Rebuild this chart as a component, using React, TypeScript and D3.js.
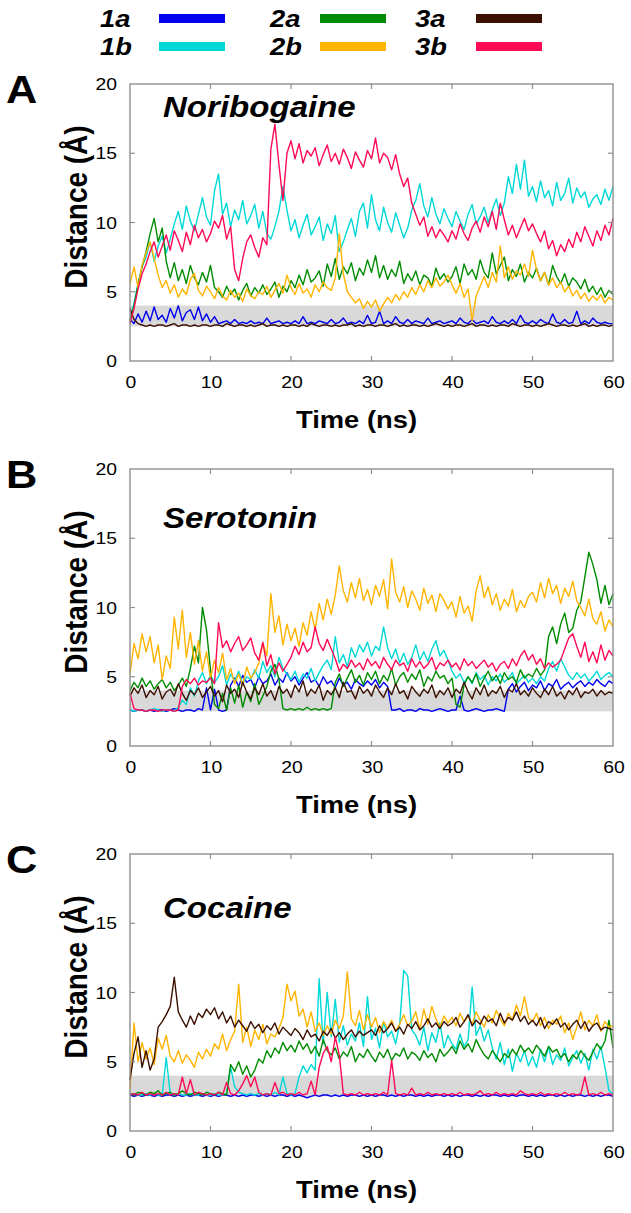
import React from 'react';
import * as d3 from 'd3';

// ---------- data ----------
const SERIES = ['1a', '1b', '2a', '2b', '3a', '3b'];
const COLORS = ['#0000ee', '#00d8d8', '#008c00', '#ffb400', '#3c1000', '#ff0a55'];
const PANEL_LETTERS = ['A', 'B', 'C'];
const TITLES = ['Noribogaine', 'Serotonin', 'Cocaine'];
const X_TICKS = [0, 10, 20, 30, 40, 50, 60];
const Y_TICKS = [0, 5, 10, 15, 20];
const X_DOMAIN = [0, 60];
const Y_DOMAIN = [0, 20];
const BAND = [2.5, 4.0];

// Panel A: Noribogaine (values every 0.5 ns, 0..60)
const A_1a = [
  3.0, 2.7, 3.4, 2.8, 3.6, 2.9, 3.9, 3.0, 3.3, 2.8, 3.8, 3.1, 4.0, 2.9, 3.5, 3.7, 3.0, 3.9, 2.9, 3.4,
  2.8, 3.2, 2.7, 2.8, 2.9, 2.7, 3.0, 2.7, 2.8, 2.7, 2.9, 2.7, 2.8, 2.7, 3.1, 2.7, 2.8, 2.9, 2.7, 2.8,
  2.7, 2.9, 2.7, 3.2, 2.7, 2.8, 2.7, 2.9, 2.8, 2.7, 3.0, 2.7, 2.8, 3.1, 2.7, 2.8, 2.7, 2.9, 2.7, 3.3,
  2.7, 2.8, 3.6, 2.7, 2.9, 2.7, 3.2, 2.8, 2.7, 3.0, 2.7, 2.9, 2.8, 2.7, 3.1, 2.7, 2.8, 2.9, 2.7, 2.8,
  2.9, 2.7, 3.1, 2.8, 2.7, 3.0, 2.7, 2.8, 2.9, 2.7, 3.2, 2.8, 2.7, 2.9, 2.7, 3.0, 2.7, 3.3, 2.8, 2.7,
  2.9, 2.7, 3.0, 2.8, 2.7, 3.4, 2.8, 2.7, 3.0, 2.7, 2.8, 3.6, 2.7, 2.9, 2.7, 3.1, 2.8, 2.7, 2.8, 2.7,
  2.7,
];
const A_1b = [
  3.0, 4.2, 5.6, 6.8, 7.5, 8.6, 7.2, 8.3, 9.0, 7.8, 8.8, 9.9, 10.8, 9.5, 11.2, 10.1, 9.4, 10.6, 11.8, 10.4,
  9.8, 12.3, 13.5, 10.6, 11.4, 9.7, 10.9, 10.2, 11.6, 9.9, 10.5, 11.3, 9.6, 10.8, 9.2, 8.8, 9.7, 10.8, 12.6, 10.9,
  9.4, 10.2, 8.9, 9.8, 10.6, 9.1, 9.7, 10.4, 8.7, 9.9, 9.2, 10.5, 7.9, 8.6, 9.5, 10.3, 9.0, 10.8, 11.4, 9.6,
  12.0, 10.2, 9.4, 11.1, 10.0, 9.3, 10.7, 9.8, 8.9, 9.6, 10.9, 11.6, 12.8, 11.2, 10.4, 11.8, 10.6, 9.9, 11.0, 10.3,
  9.7, 10.8, 10.1, 9.5, 10.6, 11.3, 9.9, 10.4, 11.1, 10.0, 10.9, 11.7, 10.5, 11.4, 13.3, 12.1, 14.2, 12.4, 14.5, 11.9,
  12.6, 11.5, 13.0, 11.8, 12.3, 11.2, 12.9, 11.6, 12.1, 13.2, 11.4, 12.5, 11.8, 12.2, 11.1, 11.7, 12.0, 11.3, 12.4, 11.6,
  12.6,
];
const A_2a = [
  2.8, 4.0, 5.5, 6.8, 7.9, 9.2, 10.3, 8.6, 9.6, 7.2, 6.0, 7.1, 5.8, 6.6, 5.6, 6.9, 6.0, 5.5, 6.4, 5.7,
  6.9, 5.3, 5.0, 4.6, 5.4, 4.8, 5.2, 4.4, 5.1, 5.6, 4.7, 5.3, 4.9, 5.5, 4.8, 5.2, 5.7, 4.6, 5.4, 5.0,
  5.8, 5.3, 6.2, 5.5, 6.6, 5.7, 6.0, 6.5, 5.4, 7.0, 6.1, 7.4, 5.9, 6.8, 6.3, 7.1, 5.8, 6.7, 6.2, 7.3,
  6.4, 7.6, 6.0, 6.9, 5.9, 6.6, 6.1, 7.2, 5.6, 6.3, 5.8, 6.5, 5.5, 6.2, 6.0, 5.4, 6.7, 5.9, 6.3, 5.7,
  6.1, 6.8, 5.6, 7.0, 6.2, 6.6, 5.9, 7.3, 6.4, 6.0, 7.8, 6.3, 6.9, 7.5, 5.8, 6.6, 6.1, 7.0, 5.7, 6.4,
  6.0, 6.7, 5.8, 6.4, 5.5, 6.9, 6.1, 5.6, 6.3, 5.4, 6.0, 5.7, 5.2, 5.9, 5.0, 5.4, 4.8, 5.3, 4.6, 5.1,
  4.8,
];
const A_2b = [
  5.6, 6.8, 5.3, 6.9, 7.8, 8.6, 7.4, 6.2, 5.3, 5.8, 4.9, 5.5, 4.6, 5.2, 4.8, 5.9, 6.3, 5.1, 4.7, 5.4,
  5.0, 4.5, 5.3, 4.7, 4.4, 5.1, 4.6, 4.9, 4.3, 5.2, 4.7, 4.5, 5.0, 4.8, 5.4, 4.6, 5.1, 5.6, 4.9, 6.2,
  5.3, 4.8, 5.6, 4.9, 5.2, 4.6, 5.5, 5.0, 5.7, 5.3, 5.1, 6.0, 9.2, 6.3, 5.0, 4.6, 4.2, 4.5, 3.8, 4.3,
  3.9, 4.4, 3.6, 4.1, 4.6, 4.2, 4.8, 4.4, 5.0, 4.6, 5.3, 4.8, 5.5, 5.0, 5.8, 5.3, 6.0, 5.4, 5.7, 6.2,
  5.5, 4.9, 5.6, 4.6, 5.2, 2.9, 4.7, 5.4, 6.1, 5.3, 6.4, 5.7, 8.3, 6.0, 6.8, 5.9, 6.5, 6.2, 7.0, 6.1,
  8.0, 6.6, 5.8, 6.4, 5.5, 6.0, 5.3, 5.7, 5.0, 5.4, 4.7, 5.1, 4.5, 4.9, 4.3, 4.7, 4.4, 4.8, 4.2, 4.6,
  4.4,
];
const A_3a = [
  3.8, 3.0, 2.7, 2.6, 2.5, 2.6, 2.5, 2.6, 2.6, 2.5, 2.6, 2.7, 2.5, 2.6, 2.6, 2.5, 2.6, 2.5, 2.6, 2.6,
  2.5, 2.6, 2.6, 2.5, 2.7, 2.6, 2.5, 2.6, 2.6, 2.5, 2.6, 2.5, 2.6, 2.7, 2.5, 2.6, 2.6, 2.5, 2.6, 2.5,
  2.6, 2.6, 2.5, 2.6, 2.5, 2.7, 2.6, 2.5, 2.6, 2.6, 2.5, 2.6, 2.5, 2.6, 2.6, 2.7, 2.5, 2.6, 2.5, 2.6,
  2.6, 2.5, 2.6, 2.6, 2.5, 2.6, 2.7, 2.5, 2.6, 2.5, 2.6, 2.6, 2.5, 2.6, 2.5, 2.6, 2.7, 2.6, 2.5, 2.6,
  2.5, 2.6, 2.6, 2.5, 2.6, 2.7, 2.5, 2.6, 2.6, 2.5, 2.6, 2.5, 2.6, 2.6, 2.5, 2.7, 2.6, 2.5, 2.6, 2.6,
  2.5, 2.6, 2.5, 2.6, 2.7, 2.6, 2.5, 2.6, 2.6, 2.5, 2.6, 2.5, 2.6, 2.7, 2.5, 2.6, 2.5, 2.6, 2.6, 2.5,
  2.6,
];
const A_3b = [
  2.7, 3.8, 5.2, 6.3, 7.0, 7.9, 8.6, 7.5, 8.3, 9.1, 8.0, 9.4, 8.7, 7.9, 9.3, 8.4, 9.8, 8.9, 9.5, 8.6,
  9.2, 10.1, 9.6, 10.5, 8.8, 9.7, 6.6, 5.8, 7.4, 8.6, 9.1, 8.2, 7.5, 8.9, 8.4, 15.3, 17.1, 14.2, 11.6, 15.0,
  15.9, 14.6, 15.7, 14.3, 15.2, 14.8, 15.4, 14.1, 14.9, 15.6, 14.4, 15.0, 14.2, 15.3, 14.7, 13.9, 15.1, 14.5, 14.0, 15.2,
  14.6, 16.1, 14.3, 15.0, 14.7, 13.8, 14.9, 13.5, 12.6, 13.2, 11.4, 10.6, 9.8, 10.4, 9.0, 9.7, 8.9, 9.5, 9.1, 8.6,
  9.4, 8.8, 9.9, 9.2, 8.7, 9.6, 10.1, 9.3, 10.4, 9.7, 10.8, 9.5, 11.4, 10.2, 9.1, 9.8, 8.9, 9.6, 10.3, 9.4,
  9.9, 9.2, 8.6, 9.4, 8.1, 8.7, 7.6, 8.4, 7.9, 8.8, 8.2, 9.3, 8.6, 9.7, 9.0, 8.3, 9.4, 8.7, 9.8, 9.1,
  10.3,
];

// Panel B: Serotonin
const B_1a = [
  2.6, 2.5, 2.6, 2.6, 2.5, 2.6, 2.5, 2.6, 2.6, 2.5, 2.6, 2.7, 2.6, 2.5, 2.6, 2.6, 2.5, 2.7, 2.6, 4.2,
  2.6, 4.1, 2.6, 2.5, 2.6, 4.4, 4.9, 4.3, 5.1, 4.6, 4.8, 4.2, 5.0, 4.5, 4.7, 5.2, 4.4, 4.9, 4.6, 5.3,
  4.7, 5.0, 4.4, 4.9, 5.3, 4.6, 4.8, 4.3, 5.0, 4.5, 4.7, 4.2, 4.9, 4.4, 4.6, 4.1, 4.8, 4.5, 4.3, 4.7,
  4.4, 4.8, 4.2, 4.6, 4.3, 2.6, 2.6, 2.7, 2.5, 2.6, 2.6, 2.5, 2.7, 2.6, 2.6, 2.5, 2.6, 2.7, 2.6, 2.5,
  2.6, 2.6, 3.6, 2.6, 2.5, 2.6, 2.7, 2.6, 2.5, 2.6, 2.6, 2.7, 2.6, 2.5, 4.1, 4.5, 3.9, 4.3, 4.6, 4.0,
  4.4, 4.2, 4.7, 4.0, 4.5, 4.3, 4.8, 4.1, 4.4, 4.6, 4.2, 4.5, 4.7, 4.3, 4.6, 4.4, 4.8, 4.5, 4.3, 4.7,
  4.5,
];
const B_1b = [
  2.6, 2.5, 2.6, 2.6, 2.5, 2.6, 2.7, 2.6, 2.5, 2.6, 2.6, 2.5, 2.8, 3.3, 3.0, 4.2, 3.6, 4.7, 5.3, 4.5,
  5.1, 4.6, 5.0, 5.8, 4.4, 5.2, 4.7, 5.4, 4.5, 5.0, 4.8, 5.5, 4.9, 6.1, 5.3, 5.8, 5.0, 6.4, 5.6, 5.2,
  4.8, 5.4, 4.6, 5.2, 4.9, 5.6, 4.7, 5.3, 5.8, 6.2, 5.5, 7.9, 6.0, 6.6, 5.7, 7.1, 6.4, 7.3, 6.8, 7.5,
  6.5, 7.2, 6.9, 8.6, 7.1, 6.3, 7.0, 6.0, 6.7, 5.9, 6.4, 7.3, 6.2, 6.8, 6.1, 7.0, 7.6, 6.5, 6.9, 6.2,
  5.4, 4.9, 5.2, 4.6, 5.0, 4.5, 5.3, 4.8, 5.1, 4.4, 5.0, 4.7, 5.2, 4.6, 4.9, 5.3, 4.5, 4.8, 5.1, 4.6,
  4.9, 4.5, 5.0, 4.7, 5.6, 6.1, 5.4, 6.3, 5.7, 5.1, 4.8, 5.3, 4.9, 5.2, 4.7, 5.0, 5.4, 4.8, 5.1, 5.3,
  5.0,
];
const B_2a = [
  4.0, 4.6, 4.2, 4.9, 4.3, 4.7, 4.1, 4.5, 4.8, 4.2, 4.6, 4.0, 4.4, 4.9, 4.3, 5.6, 7.2, 6.0, 10.0, 8.4,
  5.5, 3.0, 2.7, 3.8, 2.6, 4.2, 3.1, 4.4, 2.8, 3.9, 3.2, 4.5, 3.0, 3.6, 4.3, 5.4, 5.9, 4.8, 2.7, 2.6,
  2.7, 2.6, 2.7, 2.6, 2.8, 2.6, 2.7, 2.6, 2.7, 2.6, 2.7, 4.6, 5.2, 4.3, 4.9, 5.5, 4.6, 5.1, 4.4, 5.3,
  4.8, 5.4, 4.5, 5.1, 4.7, 5.6, 4.4, 5.0, 5.3, 4.6, 5.2, 4.8, 5.5, 4.3, 5.0, 4.7, 5.4, 4.9, 5.1, 4.5,
  4.9, 3.0, 2.8, 4.4, 5.0, 4.6, 5.2, 4.3, 4.9, 5.4, 4.7, 5.1, 4.5, 5.3, 4.8, 5.0, 4.6, 5.5, 4.9, 5.2,
  5.0, 5.6, 5.1, 5.5, 7.9, 8.6, 7.4, 8.8, 9.6, 8.2, 8.5, 9.8, 10.4, 12.2, 14.0, 13.1, 12.0, 10.3, 11.6, 10.2,
  11.0,
];
const B_2b = [
  5.2, 7.4, 6.3, 8.1, 6.8, 7.9, 6.0, 7.3, 4.8, 6.5, 5.6, 9.3, 7.0, 9.8, 6.4, 8.2, 5.9, 7.6, 5.4, 6.8,
  4.9, 6.2, 5.3, 6.7, 4.8, 5.6, 4.5, 5.2, 4.4, 5.7, 4.9, 5.3, 6.0, 7.4, 6.5, 11.0, 8.2, 9.4, 7.3, 8.8,
  7.6, 8.5, 7.2, 8.9, 8.0, 9.7, 8.4, 10.3, 9.1, 10.6, 9.5, 10.9, 13.0, 11.2, 10.4, 11.8, 10.7, 12.1, 10.5, 11.3,
  10.2, 11.6, 10.8, 12.0, 9.9, 13.5, 11.1, 10.4, 11.5, 10.0, 11.2, 10.6, 9.8, 11.4, 10.3, 10.9, 9.7, 11.0, 10.5, 9.9,
  10.4, 9.3, 10.8, 9.6, 10.1, 9.0, 11.2, 12.3, 10.7, 11.5, 10.2, 11.0, 9.8, 10.6, 10.1, 11.3, 9.7, 10.5, 10.0, 10.8,
  11.1, 10.4, 11.8, 10.7, 12.1, 11.0, 11.6, 10.3, 11.4, 10.8, 11.9, 10.5, 10.0, 9.4, 10.6, 9.2, 8.8, 9.7, 8.3, 9.1,
  8.6,
];
const B_3a = [
  3.6, 4.2, 3.8, 4.4, 3.5, 4.0, 3.7, 4.3, 3.4, 3.9, 4.1, 3.6, 4.5, 3.8, 3.3, 4.0, 3.7, 4.2, 3.5, 3.9,
  4.3, 3.6, 4.0, 3.2, 4.4, 3.8, 4.1, 3.5, 4.6, 3.9, 3.4, 4.2, 3.7, 4.5, 3.6, 4.0, 3.3, 4.3, 3.8, 4.1,
  3.5, 4.4, 3.9, 4.7, 3.6, 4.1, 3.8, 4.4, 3.3, 4.0, 3.7, 4.2, 3.5, 4.6, 3.9, 4.0, 3.4, 4.3, 3.8, 4.1,
  3.6, 4.4, 3.9, 3.5, 4.2, 3.7, 4.5, 3.8, 4.0, 3.4, 4.3, 3.9, 3.6, 4.1, 3.8, 4.4, 3.5, 4.0, 3.7, 4.2,
  3.5, 4.1, 3.8, 4.6, 3.9, 3.4, 4.2, 3.7, 4.4, 3.6, 4.0, 3.8, 4.3, 3.5, 4.1, 3.9, 4.5, 3.7, 4.0, 3.6,
  4.2, 3.8, 3.5, 4.1, 3.7, 4.3, 3.6, 3.9, 3.4, 4.0, 3.7, 4.2, 3.5, 3.9, 3.8, 4.1, 3.6, 4.0, 3.7, 3.9,
  3.8,
];
const B_3b = [
  3.8, 2.7, 2.6, 2.6, 2.5, 2.6, 2.6, 2.5, 2.6, 2.6, 2.6, 2.5, 2.6, 4.3, 4.8, 4.5, 4.9, 4.4, 4.7, 4.6,
  4.9, 4.5, 8.9, 7.1, 7.6, 6.8, 7.4, 7.9, 6.9, 7.3, 7.8, 6.7, 6.2, 7.5, 5.8, 6.6, 5.2, 6.0, 5.4, 5.9,
  6.4, 7.2, 6.6, 7.5, 6.8, 7.1, 8.6, 7.4, 6.9, 7.7, 7.0, 6.3, 5.4, 5.9, 5.6, 6.2, 5.7, 6.0, 5.5, 6.3,
  5.8, 6.1, 5.6, 6.4, 5.9, 5.5, 6.2, 5.8, 6.0, 5.4, 6.3, 5.7, 6.1, 5.6, 5.9, 6.4, 5.5, 6.0, 5.8, 6.2,
  5.7, 6.0, 5.5, 6.3, 5.8, 6.1, 5.6, 5.9, 6.2, 5.7, 6.0, 5.4, 5.9, 6.1, 5.6, 6.3, 5.8, 6.5, 6.9, 6.2,
  6.6, 5.9, 6.3, 5.6, 6.0, 5.7, 5.9, 6.2, 7.0, 7.8, 8.1, 7.2, 6.4, 7.5, 6.1, 6.8, 6.0, 7.3, 6.2, 6.9,
  6.5,
];

// Panel C: Cocaine
const C_1a = [
  2.6, 2.5, 2.6, 2.5, 2.6, 2.6, 2.5, 2.6, 2.5, 2.6, 2.6, 2.5, 2.6, 2.5, 2.6, 2.5, 2.6, 2.6, 2.5, 2.6,
  2.5, 2.6, 2.5, 2.6, 2.6, 2.5, 2.6, 2.5, 2.6, 2.5, 2.6, 2.6, 2.5, 2.6, 2.5, 2.6, 2.5, 2.6, 2.6, 2.5,
  2.6, 2.5, 2.6, 2.5, 2.4, 2.5, 2.6, 2.5, 2.6, 2.6, 2.5, 2.6, 2.5, 2.6, 2.5, 2.6, 2.6, 2.5, 2.6, 2.5,
  2.6, 2.5, 2.6, 2.6, 2.5, 2.6, 2.5, 2.6, 2.5, 2.6, 2.6, 2.5, 2.6, 2.5, 2.6, 2.5, 2.6, 2.6, 2.5, 2.6,
  2.5, 2.6, 2.5, 2.6, 2.6, 2.5, 2.6, 2.5, 2.6, 2.5, 2.6, 2.6, 2.5, 2.6, 2.5, 2.6, 2.5, 2.6, 2.6, 2.5,
  2.6, 2.5, 2.6, 2.5, 2.6, 2.6, 2.5, 2.6, 2.5, 2.6, 2.5, 2.6, 2.6, 2.5, 2.6, 2.5, 2.6, 2.5, 2.6, 2.6,
  2.5,
];
const C_1b = [
  2.6, 2.7, 2.6, 2.6, 2.7, 2.6, 2.7, 2.6, 2.6, 5.3, 2.7, 2.6, 2.7, 2.6, 2.6, 2.7, 2.6, 2.6, 2.7, 2.6,
  2.6, 2.7, 2.6, 2.6, 2.7, 4.6, 3.2, 2.8, 2.7, 2.6, 2.7, 2.6, 2.7, 2.6, 2.7, 2.6, 2.8, 2.6, 3.9, 2.7,
  2.6, 2.7, 3.9, 4.7, 4.2, 4.8, 4.4, 11.0, 6.3, 10.0, 6.8, 9.5, 6.4, 7.6, 6.2, 7.0, 6.5, 7.8, 6.1, 9.7,
  6.6, 7.4, 6.0, 7.9, 6.8, 7.2, 6.3, 7.7, 11.6, 11.2, 7.3, 6.9, 6.2, 7.5, 5.8, 7.1, 6.4, 7.8, 6.0, 6.9,
  6.3, 5.9, 7.0, 6.1, 6.6, 10.4, 6.9, 7.6, 6.5, 7.3, 6.0, 5.2, 6.4, 4.8, 5.9, 4.3, 5.6, 5.0, 5.8, 4.7,
  5.4, 4.6, 5.9, 5.0, 6.1, 4.8, 5.5, 5.1, 6.0, 4.7, 5.3, 5.8, 4.9, 5.6, 4.4, 5.9, 5.2, 6.1, 4.6, 2.9,
  2.7,
];
const C_2a = [
  2.7, 2.6, 2.8, 2.7, 2.6, 2.8, 2.7, 2.9, 2.6, 2.7, 2.8, 2.6, 2.7, 2.9, 2.7, 2.6, 2.8, 2.7, 2.6, 2.8,
  2.7, 2.6, 2.8, 2.7, 2.6, 4.8, 4.3, 5.0, 4.1, 4.7, 3.9, 4.4, 5.2, 4.9, 5.8, 5.3, 6.0, 5.6, 6.4, 5.8,
  6.2, 5.7, 6.5, 5.9, 6.3, 5.6, 6.1, 5.4, 6.6, 5.8, 5.5, 6.0, 5.2, 5.7, 5.4, 6.1, 5.0, 5.6, 5.3, 5.9,
  5.4, 5.0, 5.7, 5.3, 5.9, 5.1, 5.6, 5.4, 6.0, 5.2, 5.7, 5.5, 5.1, 5.8, 5.3, 5.6, 5.0, 5.9, 5.4, 5.7,
  6.1, 5.6, 6.5, 5.9, 6.3, 5.7, 6.6, 6.0, 5.5, 5.2, 5.8, 5.4, 5.0, 5.6, 5.3, 5.9, 5.5, 6.2, 5.7, 6.0,
  5.6, 6.2, 5.8, 5.4, 6.1, 5.7, 5.9, 5.3, 5.6, 5.0, 5.5, 5.2, 5.8, 5.4, 5.1, 5.7, 6.3, 5.9, 6.5, 8.0,
  6.0,
];
const C_2b = [
  3.0, 7.8, 5.0, 6.4, 5.2, 6.0, 4.8, 6.7, 5.9, 6.9, 5.4, 5.0, 5.8, 4.9, 5.5, 5.1, 4.6, 5.7, 5.2, 5.9,
  5.4, 6.3, 5.9, 7.0, 5.8, 6.6, 7.2, 10.6, 6.4, 7.5, 6.1, 7.3, 6.6, 7.7, 6.3, 7.0, 6.8, 7.4, 8.2, 10.6,
  9.4, 10.1, 8.3, 8.8, 7.5, 8.6, 7.2, 7.8, 6.9, 7.6, 7.0, 8.0, 7.4, 8.3, 11.5, 8.1, 7.6, 8.7, 7.3, 8.4,
  7.5, 8.2, 7.1, 7.9, 7.4, 8.0, 7.2, 7.7, 8.4, 7.6, 7.9, 8.6, 7.3, 8.8, 7.7, 9.0, 8.1, 7.5, 8.3, 7.8,
  8.2, 7.6, 8.5, 7.9, 8.3, 7.7, 8.6, 8.0, 7.5, 8.4, 7.8, 8.7, 8.1, 7.6, 8.5, 8.0, 9.1, 8.3, 9.7, 8.2,
  7.9, 8.5, 7.6, 8.2, 7.4, 8.0, 7.7, 8.3, 7.1, 7.8, 6.6, 7.5, 8.6, 7.3, 8.0, 7.6, 8.4, 7.2, 7.9, 7.5,
  7.6,
];
const C_3a = [
  3.7, 5.6, 6.8, 4.6, 5.8, 4.4, 5.2, 7.5, 7.9, 8.4, 9.0, 11.1, 8.6, 8.0, 7.5, 8.3, 7.7, 8.5, 8.2, 8.8,
  8.4, 8.9, 8.1, 8.6, 7.8, 8.3, 7.5, 8.0, 7.6, 7.2, 7.9, 7.4, 7.7, 7.1, 7.6, 7.3, 7.8, 7.0, 7.5, 7.2,
  6.9, 7.4, 7.1, 6.6, 7.3, 6.8, 7.0, 6.5, 7.2, 6.9, 7.4, 6.7, 7.1, 6.6, 7.0, 7.3, 6.8, 7.2, 6.9, 7.1,
  7.3, 6.9, 7.6, 7.1, 7.4, 7.8, 7.2, 7.5, 7.0, 7.7, 7.4, 7.9, 7.3, 7.6, 8.1, 7.5, 7.8, 7.4, 7.9, 7.6,
  7.8, 8.2, 7.5, 7.9, 8.4, 7.6, 8.0, 7.7, 8.3, 7.9, 8.1, 7.6, 8.5, 7.8, 8.2, 8.0, 8.6, 7.9, 8.3, 7.7,
  8.0, 7.6, 8.2, 7.4, 7.9, 7.7, 8.1, 7.5, 7.8, 7.3, 7.7, 8.0, 7.4, 7.9, 7.2, 7.6, 7.8, 7.3, 7.5, 7.4,
  7.3,
];
const C_3b = [
  2.6, 2.7, 2.6, 2.8, 2.6, 2.7, 2.6, 2.7, 2.6, 2.8, 2.6, 2.7, 2.6, 3.9, 2.7, 3.7, 2.6, 2.8, 2.7, 2.6,
  2.7, 2.6, 2.8, 2.6, 3.5, 2.7, 2.6, 2.9, 3.4, 4.0, 3.2, 3.9, 2.8, 2.6, 2.7, 2.6, 3.5, 2.7, 2.8, 2.6,
  2.7, 2.6, 2.8, 2.6, 2.7, 3.6, 2.6, 4.6, 5.6, 6.1, 5.0, 6.8, 5.5, 2.7, 2.6, 2.7, 2.6, 2.8, 2.6, 2.7,
  2.6, 2.7, 2.6, 2.8, 2.6, 5.1, 2.7, 2.6, 2.7, 2.6, 3.1, 2.6, 2.7, 2.6, 2.8, 2.6, 2.7, 2.6, 2.7, 2.6,
  2.7, 2.6, 2.8, 2.6, 2.7, 2.6, 2.7, 2.9, 2.6, 2.7, 2.6, 2.8, 2.6, 2.7, 2.6, 2.7, 2.6, 2.9, 2.7, 2.6,
  2.7, 2.6, 2.8, 2.6, 2.7, 2.6, 2.7, 2.6, 2.8, 2.6, 2.7, 2.6, 2.7, 3.9, 2.6, 2.7, 2.6, 2.8, 2.6, 2.7,
  2.6,
];

const PANEL_DATA = [
  [A_1a, A_1b, A_2a, A_2b, A_3a, A_3b],
  [B_1a, B_1b, B_2a, B_2b, B_3a, B_3b],
  [C_1a, C_1b, C_2a, C_2b, C_3a, C_3b],
];

// ---------- layout ----------
const W = 631;
const H = 1213;
const PLOT_LEFT = 130;
const PLOT_RIGHT = 613;
const PANEL_TOPS = [84, 469, 854];
const PANEL_H = 277;
const TITLE_DY = [33, 59, 64];
const FONT = "'Liberation Sans', Arial, Helvetica, sans-serif";
const SX = 1.14; // horizontal stretch of the original figure's lettering
const AXIS_COLOR = '#8f8f8f';
const BAND_COLOR = '#d9d9d9';

const LEGEND_LABEL_X = [100, 270, 415];
const LEGEND_LINE_X = [159, 320, 476];
const LEGEND_LINE_W = 66;
const LEGEND_ROW_Y = [18.5, 46.5];
const LEGEND_TEXT_Y = [27, 55];

function T(props: {
  x: number; y: number; size: number; bold?: boolean; italic?: boolean;
  anchor?: 'start' | 'middle' | 'end'; rotate?: number; children: React.ReactNode;
}) {
  const { x, y, size, bold, italic, anchor = 'start', rotate, children } = props;
  const tr = `translate(${x},${y}) scale(${SX},1)` + (rotate ? ` rotate(${rotate})` : '');
  return (
    <text
      transform={tr}
      fontFamily={FONT}
      fontSize={size}
      fontWeight={bold ? 700 : 400}
      fontStyle={italic ? 'italic' : 'normal'}
      textAnchor={anchor}
      fill="#000"
    >
      {children}
    </text>
  );
}

function Panel({ index }: { index: number }) {
  const top = PANEL_TOPS[index];
  const bottom = top + PANEL_H;
  const x = d3.scaleLinear().domain(X_DOMAIN).range([PLOT_LEFT, PLOT_RIGHT]);
  const y = d3.scaleLinear().domain(Y_DOMAIN).range([bottom, top]);
  const seriesList = PANEL_DATA[index];
  const mid = (PLOT_LEFT + PLOT_RIGHT) / 2;

  return (
    <g>
      {/* grey band */}
      <rect
        x={x(X_DOMAIN[0])}
        y={y(BAND[1])}
        width={x(X_DOMAIN[1]) - x(X_DOMAIN[0])}
        height={y(BAND[0]) - y(BAND[1])}
        fill={BAND_COLOR}
      />
      {/* data lines */}
      {seriesList.map((vals, si) => {
        const n = vals.length;
        const line = d3
          .line<number>()
          .x((_, i) => x((i * (X_DOMAIN[1] - X_DOMAIN[0])) / (n - 1)))
          .y((v) => y(v));
        return (
          <path
            key={SERIES[si]}
            d={line(vals) || ''}
            fill="none"
            stroke={COLORS[si]}
            strokeWidth={1.4}
            strokeLinejoin="round"
          />
        );
      })}
      {/* frame */}
      <rect
        x={PLOT_LEFT}
        y={top}
        width={PLOT_RIGHT - PLOT_LEFT}
        height={PANEL_H}
        fill="none"
        stroke={AXIS_COLOR}
        strokeWidth={1.4}
      />
      {/* ticks */}
      {X_TICKS.slice(1, -1).map((t) => (
        <g key={'xt' + t}>
          <line x1={x(t)} x2={x(t)} y1={bottom} y2={bottom - 5} stroke={AXIS_COLOR} strokeWidth={1.2} />
          <line x1={x(t)} x2={x(t)} y1={top} y2={top + 5} stroke={AXIS_COLOR} strokeWidth={1.2} />
        </g>
      ))}
      {Y_TICKS.slice(1, -1).map((t) => (
        <g key={'yt' + t}>
          <line x1={PLOT_LEFT} x2={PLOT_LEFT + 5} y1={y(t)} y2={y(t)} stroke={AXIS_COLOR} strokeWidth={1.2} />
          <line x1={PLOT_RIGHT} x2={PLOT_RIGHT - 5} y1={y(t)} y2={y(t)} stroke={AXIS_COLOR} strokeWidth={1.2} />
        </g>
      ))}
      {/* tick labels */}
      {Y_TICKS.map((t) => (
        <T key={'yl' + t} x={117} y={y(t) + 6} size={17} anchor="end">
          {String(t)}
        </T>
      ))}
      {X_TICKS.map((t) => (
        <T key={'xl' + t} x={x(t) + 1} y={bottom + 27} size={17} anchor="middle">
          {String(t)}
        </T>
      ))}
      {/* axis titles */}
      <T x={mid - 15} y={bottom + 67} size={24} bold anchor="middle">
        Time (ns)
      </T>
      <T x={87} y={top + 123} size={28} bold anchor="middle" rotate={-90}>
        Distance (Å)
      </T>
      {/* panel letter and title */}
      <T x={6} y={top + 19} size={38} bold>
        {PANEL_LETTERS[index]}
      </T>
      <T x={163} y={top + TITLE_DY[index]} size={29} bold italic>
        {TITLES[index]}
      </T>
    </g>
  );
}

function Legend() {
  return (
    <g>
      {SERIES.map((s, i) => {
        const col = Math.floor(i / 2);
        const row = i % 2;
        return (
          <g key={s}>
            <T x={LEGEND_LABEL_X[col]} y={LEGEND_TEXT_Y[row]} size={24} bold italic>
              {s}
            </T>
            <line
              x1={LEGEND_LINE_X[col]}
              x2={LEGEND_LINE_X[col] + LEGEND_LINE_W}
              y1={LEGEND_ROW_Y[row]}
              y2={LEGEND_ROW_Y[row]}
              stroke={COLORS[i]}
              strokeWidth={9}
            />
          </g>
        );
      })}
    </g>
  );
}

export default function App() {
  return (
    <svg
      width={W}
      height={H}
      viewBox={`0 0 ${W} ${H}`}
      style={{ position: 'absolute', left: 0, top: 0, background: '#fff' }}
    >
      <rect x={0} y={0} width={W} height={H} fill="#fff" />
      <Legend />
      {PANEL_TOPS.map((_, i) => (
        <Panel key={i} index={i} />
      ))}
    </svg>
  );
}
